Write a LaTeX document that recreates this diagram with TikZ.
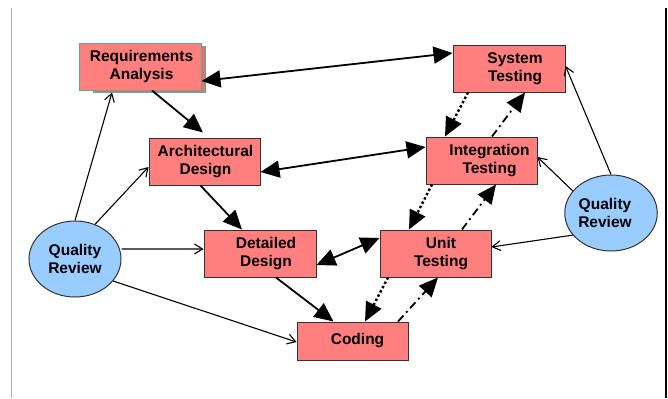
\documentclass[tikz,border=0pt]{standalone}
\usepackage{fontspec}
\setmainfont{Liberation Sans}
\usepackage{tikz}
\usetikzlibrary{arrows.meta, shapes.geometric}
\definecolor{P1}{HTML}{FF7F7F}
\definecolor{P2}{HTML}{E67070}
\definecolor{P3}{HTML}{99CCFF}
\definecolor{P4}{HTML}{5FAA8C}
\definecolor{P5}{HTML}{AAAAAA}
\newcommand{\pad}[1]{\hspace*{#1}}

\begin{document}
\begin{tikzpicture}[
	x=1bp, y=-1bp,
	font=\fontsize{15.5bp}{18.5bp}\selectfont\bfseries,
	bigtip/.tip = {Triangle[length=19bp, width=17bp]},
	opentip/.tip = {Straight Barb[length=8bp, width=10bp]},
	phase/.style = {draw=black!80, rectangle, align=center, fill=P1, line width=1bp, minimum width=111bp, minimum height=47bp, inner sep=0pt},
	review/.style = {draw=black!80, ellipse, align=center, fill=P3, line width=1bp, minimum width=92bp, minimum height=76bp, inner sep=0pt},
	flow/.style = {line width=1.8bp, -bigtip},
	twoway/.style = {line width=1.8bp, bigtip-bigtip},
	dotflow/.style = {line width=2.4bp, dash pattern=on 2.4bp off 2.4bp, -bigtip},
	dashflow/.style = {line width=1.8bp, dash pattern=on 8bp off 4bp on 2bp off 4bp, -bigtip},
	check/.style = {line width=1.1bp, -opentip},
	every edge/.style = {draw}
]
  \useasboundingbox (0,0) rectangle (668,398);
  \draw[P5, line width=1bp] (11,8) -- (11,398);
  \draw[line width=1.2bp] (666,8) -- (666,398);

  % Define vertices
  \node[phase, fill=P2, draw=P4, minimum width=112bp, minimum height=46bp] at (149,69) (reqshadow) {};
  \node[phase, draw=P4, minimum width=122bp] at (140,66.5) (reqa) {\pad{3bp}Requirements\\\pad{3bp}Analysis};
  \node[phase] at (204.5,161.5) (archd) {\pad{2bp}Architectural\\\pad{2bp}Design};
  \node[phase, minimum width=112bp] at (260,253.5) (detd) {\pad{12bp}Detailed\\\pad{12bp}Design};
  \node[phase, minimum height=38bp] at (352.5,341) (coding) {\pad{10bp}Coding};
  \node[phase] at (435.5,253.5) (unittest) {\pad{11bp}Unit\\\pad{11bp}Testing};
  \node[phase] at (481.5,160.5) (inttest) {\pad{16bp}Integration\\\pad{16bp}Testing};
  \node[phase, minimum width=112bp] at (509,68.5) (systest) {\pad{12bp}System\\\pad{12bp}Testing};
  \node[review] at (75,259) (qrleft) {Quality\\Review};
  \node[review] at (611,213) (qrright) {Quality\pad{12bp}\\Review\pad{12bp}};

  % Edges
  \draw ([yshift=-14.5bp]reqa.east) edge[twoway] ([yshift=15.5bp]systest.west);
  \draw ([xshift=12bp]reqa.south) edge[flow] ([xshift=-1.5bp, yshift=5bp]archd.north);
  \draw ([yshift=-10.5bp]archd.east) edge[twoway] ([yshift=13.5bp]inttest.west);
  \draw ([xshift=-4bp]archd.south) edge[flow] ([xshift=-18bp]detd.north);
  \draw ([yshift=-11.5bp]detd.east) edge[twoway] ([yshift=15.5bp]unittest.west);
  \draw ([xshift=16bp]detd.south) edge[flow] ([xshift=-19bp]coding.north);
  \draw ([xshift=-41bp]systest.south) edge[dotflow] ([xshift=-36.5bp]inttest.north);
  \draw ([xshift=10.5bp]inttest.north) edge[dashflow] ([xshift=16bp]systest.south);
  \draw ([xshift=-49.5bp]inttest.south) edge[dotflow] ([xshift=-26.5bp]unittest.north);
  \draw ([xshift=26.5bp]unittest.north) edge[dashflow] ([xshift=14.5bp]inttest.south);
  \draw ([xshift=-47.5bp]unittest.south) edge[dotflow] ([xshift=12.5bp]coding.north);
  \draw ([xshift=45.5bp]coding.north) edge[dashflow] ([xshift=2.5bp]unittest.south);

  % Reviews
  \draw (qrleft.north) edge[check] ([xshift=-37bp]reqshadow.south);
  \draw (qrleft.60) edge[check] ([yshift=-5.5bp]archd.west);
  \draw ([yshift=10bp]qrleft.east) edge[check] ([yshift=4.5bp]detd.west);
  \draw (qrleft.-30) edge[check] ([yshift=-1bp]coding.west);
  \draw (qrright.north) edge[check] ([yshift=2.5bp]systest.east);
  \draw (qrright.150) edge[check] ([yshift=3.5bp]inttest.east);
  \draw (qrright.-150) edge[check] ([yshift=6.5bp]unittest.east);
\end{tikzpicture}
\end{document}
